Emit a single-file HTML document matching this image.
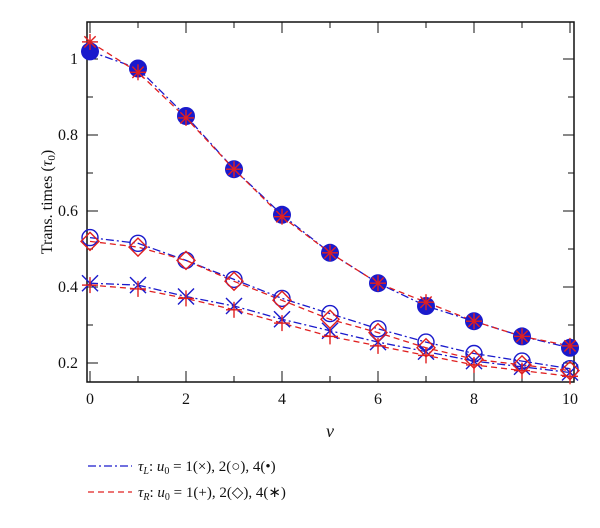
<!DOCTYPE html>
<html><head><meta charset="utf-8"><style>
body{margin:0;background:#fff}
svg text{font-family:"Liberation Serif",serif;fill:#111}
</style></head><body>
<svg id="c" width="600" height="523" viewBox="0 0 600 523">
<g id="axes"></g><g id="series"></g>
<g>
<line x1="88" y1="466" x2="132" y2="466" stroke="#1a1acc" stroke-width="1.3" stroke-dasharray="8,3,2,3"/>
<text x="138" y="471" font-size="15"><tspan font-style="italic">τ</tspan><tspan font-style="italic" font-size="10" dy="3">L</tspan><tspan dy="-3">: </tspan><tspan font-style="italic">u</tspan><tspan font-size="10" dy="3">0</tspan><tspan dy="-3"> = 1(×), 2(○), 4(•)</tspan></text>
<line x1="88" y1="492" x2="132" y2="492" stroke="#e02020" stroke-width="1.3" stroke-dasharray="6,4"/>
<text x="138" y="497" font-size="15"><tspan font-style="italic">τ</tspan><tspan font-style="italic" font-size="10" dy="3">R</tspan><tspan dy="-3">: </tspan><tspan font-style="italic">u</tspan><tspan font-size="10" dy="3">0</tspan><tspan dy="-3"> = 1(+), 2(◇), 4(∗)</tspan></text>
</g>
<text x="330" y="437" font-size="18" font-style="italic" text-anchor="middle">ν</text>
<text transform="translate(52,202) rotate(-90)" font-size="16" text-anchor="middle">Trans. times (<tspan font-style="italic">τ</tspan><tspan font-size="11" dy="3">0</tspan><tspan dy="-3">)</tspan></text>
</svg>
<script>
const nu=[0,1,2,3,4,5,6,7,8,9,10];
const xTicks=[0,2,4,6,8,10];
const yTicks=[0.2,0.4,0.6,0.8,1];
const u4L=[1.02,0.975,0.85,0.71,0.59,0.49,0.41,0.35,0.31,0.27,0.24];
const u4R=[1.045,0.965,0.845,0.71,0.585,0.49,0.41,0.36,0.31,0.27,0.245];
const u2L=[0.53,0.515,0.47,0.42,0.37,0.33,0.29,0.255,0.225,0.205,0.185];
const u2R=[0.52,0.505,0.47,0.415,0.365,0.315,0.28,0.24,0.21,0.195,0.18];
const u1L=[0.41,0.405,0.375,0.35,0.315,0.285,0.255,0.23,0.205,0.19,0.175];
const u1R=[0.405,0.395,0.37,0.34,0.305,0.27,0.245,0.22,0.195,0.18,0.165];
const NS="http://www.w3.org/2000/svg";
const X=v=>90+v*48, Y=v=>59+(1-v)*380;
const L=87,R=574,T=22,B=382;
function el(t,a,p){const e=document.createElementNS(NS,t);for(const k in a)e.setAttribute(k,a[k]);p.appendChild(e);return e;}
const ax=document.getElementById('axes'), sg=document.getElementById('series');
const frame=el('rect',{x:L,y:T,width:R-L,height:B-T,fill:'none',stroke:'#111','stroke-width':1.5},ax);


for(let v=0;v<=10;v+=1){const big=v%2==0;
 el('line',{x1:X(v),x2:X(v),y1:B,y2:B-(big?11:6),stroke:'#111'},ax);
 el('line',{x1:X(v),x2:X(v),y1:T,y2:T+(big?11:6),stroke:'#111'},ax);}
xTicks.forEach(v=>{const t=el('text',{x:X(v),y:404,'font-size':16,'text-anchor':'middle'},ax);t.textContent=v;
 
 });
for(let v=0.2;v<=1.05;v+=0.1){const big=Math.round(v*10)%2==0;
 el('line',{x1:L,x2:L+(big?11:6),y1:Y(v),y2:Y(v),stroke:'#111'},ax);
 el('line',{x1:R,x2:R-(big?11:6),y1:Y(v),y2:Y(v),stroke:'#111'},ax);}
yTicks.forEach(v=>{const t=el('text',{x:78,y:Y(v)+5,'font-size':16,'text-anchor':'end'},ax);t.textContent=String(v);
 
 });
const BL='#1a1acc', RD='#e02020';
function line(d,c,dash,name){const p=el('polyline',{points:d.map((v,i)=>X(nu[i])+','+Y(v)).join(' '),fill:'none',stroke:c,'stroke-width':1.3,'stroke-dasharray':dash},sg);
 
 }
function mark(d,type,c,name){d.forEach((v,i)=>{const x=X(nu[i]),y=Y(v);const g=el('g',{stroke:c,fill:'none','stroke-width':1.4},sg);
 
 
 const s=8;
 if(type=='x'){el('line',{x1:x-s,y1:y-s,x2:x+s,y2:y+s},g);el('line',{x1:x-s,y1:y+s,x2:x+s,y2:y-s},g);}
 if(type=='+'){el('line',{x1:x-s,y1:y,x2:x+s,y2:y},g);el('line',{x1:x,y1:y-s,x2:x,y2:y+s},g);}
 if(type=='o')el('circle',{cx:x,cy:y,r:8},g);
 if(type=='d')el('polygon',{points:`${x},${y-9} ${x+9},${y} ${x},${y+9} ${x-9},${y}`},g);
 if(type=='f')el('circle',{cx:x,cy:y,r:9,fill:c,stroke:'none'},g);
 if(type=='*'){for(let a=0;a<4;a++){const t=a*Math.PI/4;el('line',{x1:x-s*Math.cos(t),y1:y-s*Math.sin(t),x2:x+s*Math.cos(t),y2:y+s*Math.sin(t)},g);}}
});}
line(u4L,BL,'8,3,2,3','line-tau-l-u4');line(u2L,BL,'8,3,2,3','line-tau-l-u2');line(u1L,BL,'8,3,2,3','line-tau-l-u1');
line(u4R,RD,'6,4','line-tau-r-u4');line(u2R,RD,'6,4','line-tau-r-u2');line(u1R,RD,'6,4','line-tau-r-u1');
mark(u4L,'f',BL,'point-tau-l-u4');mark(u2L,'o',BL,'point-tau-l-u2');mark(u1L,'x',BL,'point-tau-l-u1');
mark(u4R,'*',RD,'point-tau-r-u4');mark(u2R,'d',RD,'point-tau-r-u2');mark(u1R,'+',RD,'point-tau-r-u1');
</script>
</body></html>
